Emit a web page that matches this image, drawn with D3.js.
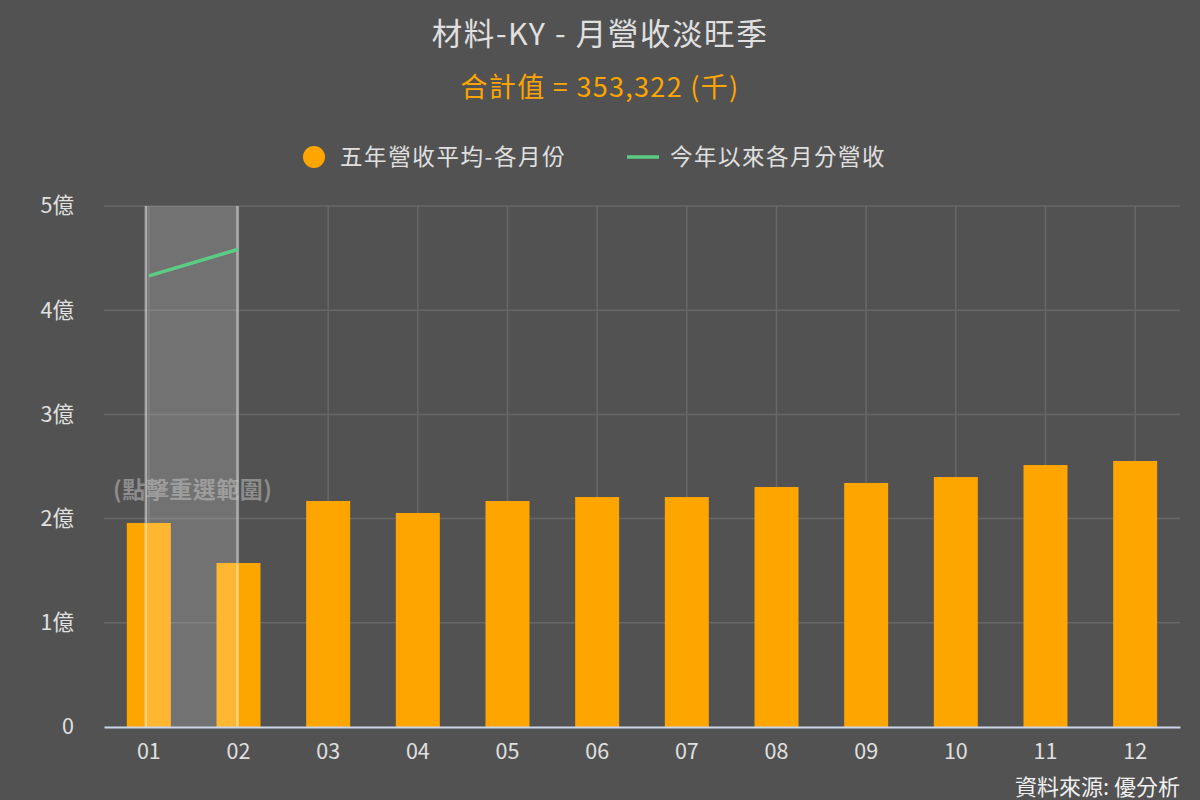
<!DOCTYPE html>
<html><head><meta charset="utf-8">
<script src="https://cdn.jsdelivr.net/npm/d3@7/dist/d3.min.js"></script>
<style>
html,body{margin:0;padding:0;background:#525252;}
svg{display:block;font-family:"Noto Sans CJK TC","Noto Sans",sans-serif;}
</style></head>
<body><svg id="c" width="1200" height="800"></svg>
<script>
const months = ["01","02","03","04","05","06","07","08","09","10","11","12"];
const avgValues = [1.958, 1.574, 2.169, 2.054, 2.169, 2.207, 2.207, 2.303, 2.342, 2.399, 2.514, 2.553]; // 億
const thisYearMonths = ["01","02"];
const thisYearValues = [4.33, 4.585]; // 億
const yTicks = [0,1,2,3,4,5];
const yTickLabels = ["0","1億","2億","3億","4億","5億"];
const bandMonths = ["01","02"];
const titleText = "材料-KY - 月營收淡旺季";
const subtitleText = "合計值 = 353,322 (千)";
const legendLabels = ["五年營收平均-各月份","今年以來各月分營收"];
const sourceText = "資料來源: 優分析";
const hintText = "(點擊重選範圍)";

const FONT = "'Noto Sans CJK TC','Noto Sans',sans-serif";
const svg = d3.select("#c");
const W = 1200, H = 800;
const m = {left:104, right:20, top:206, bottom:73};
const x = d3.scaleBand().domain(months).range([m.left, W - m.right]).paddingInner(0).paddingOuter(0);
const y = d3.scaleLinear().domain([0,5]).range([H - m.bottom, m.top]);
const cx = d => x(d) + x.bandwidth()/2;

svg.append("rect").attr("width",W).attr("height",H).attr("fill","#525252");

// title
svg.append("text").attr("x",W/2).attr("y",45).attr("text-anchor","middle")
  .attr("fill","#e0e0e0").attr("font-size",30.5).attr("letter-spacing",1.6).text(titleText);
svg.append("text").attr("x",W/2).attr("y",97).attr("text-anchor","middle")
  .attr("fill","#ffa500").attr("font-size",27).attr("letter-spacing",1.3).text(subtitleText);

// legend
const lg = svg.append("g");
lg.append("circle").attr("cx",314).attr("cy",157).attr("r",11).attr("fill","#ffa500");
lg.append("text").attr("x",340).attr("y",165).attr("fill","#e0e0e0").attr("font-size",22.5).attr("letter-spacing",1.6).text(legendLabels[0]);
lg.append("line").attr("x1",627).attr("x2",659).attr("y1",157).attr("y2",157).attr("stroke","#5ccc85").attr("stroke-width",3.5);
lg.append("text").attr("x",670).attr("y",165).attr("fill","#e0e0e0").attr("font-size",22.5).attr("letter-spacing",1.5).text(legendLabels[1]);

// horizontal grid
svg.append("g").selectAll("line").data(yTicks.filter(t=>t>0)).join("line")
  .attr("x1",m.left).attr("x2",W-m.right)
  .attr("y1",d=>y(d)).attr("y2",d=>y(d))
  .attr("stroke","#676767").attr("stroke-width",1.5);
// vertical grid at category centers
svg.append("g").selectAll("line").data(months).join("line")
  .attr("x1",d=>cx(d)).attr("x2",d=>cx(d))
  .attr("y1",m.top).attr("y2",H-m.bottom)
  .attr("stroke","#676767").attr("stroke-width",1.5);

// y axis labels
const yAxis = d3.axisLeft(y).tickValues(yTicks).tickFormat((d,i)=>yTickLabels[i]).tickSize(0).tickPadding(30);
const ya = svg.append("g").attr("transform",`translate(${m.left},0)`).call(yAxis);
ya.select(".domain").remove();
ya.selectAll("text").attr("fill","#e0e0e0").attr("font-size",21.5).attr("font-family",FONT);

// bars
const bw = 44;
svg.append("g").selectAll("rect").data(avgValues).join("rect")
  .attr("x",(d,i)=>cx(months[i]) - bw/2)
  .attr("width",bw)
  .attr("y",d=>y(d)).attr("height",d=>y(0)-y(d))
  .attr("fill","#ffa500");

// plot band
const bx0 = cx(bandMonths[0]) - 3, bx1 = cx(bandMonths[1]) - 1;
svg.append("rect").attr("x",bx0).attr("y",m.top).attr("width",bx1-bx0).attr("height",y(0)-m.top)
  .attr("fill","rgba(255,255,255,0.19)");
[bx0,bx1].forEach(v=>{
  svg.append("line").attr("x1",v).attr("x2",v).attr("y1",m.top).attr("y2",y(0))
    .attr("stroke","rgba(255,255,255,0.45)").attr("stroke-width",2.5);
});

// line
const line = d3.line().x((d,i)=>cx(thisYearMonths[i])).y(d=>y(d));
svg.append("path").datum(thisYearValues).attr("d",line).attr("fill","none")
  .attr("stroke","#5ccc85").attr("stroke-width",3.5);

// x axis
const xAxis = d3.axisBottom(x).tickSize(0).tickPadding(17);
const xa = svg.append("g").attr("transform",`translate(0,${y(0)})`).call(xAxis);
xa.select(".domain").attr("stroke","#ccd6eb").attr("stroke-width",2);
xa.selectAll("text").attr("fill","#e0e0e0").attr("font-size",21.5).attr("font-family",FONT);

// hint text
svg.append("text").attr("x",113).attr("y",498).attr("fill","rgba(200,200,200,0.5)")
  .attr("font-size",23).attr("font-weight","bold").attr("letter-spacing",0.5).text(hintText);

// source
svg.append("text").attr("x",1180).attr("y",795).attr("text-anchor","end")
  .attr("fill","#f0f0f0").attr("font-size",22).text(sourceText);
</script></body></html>
